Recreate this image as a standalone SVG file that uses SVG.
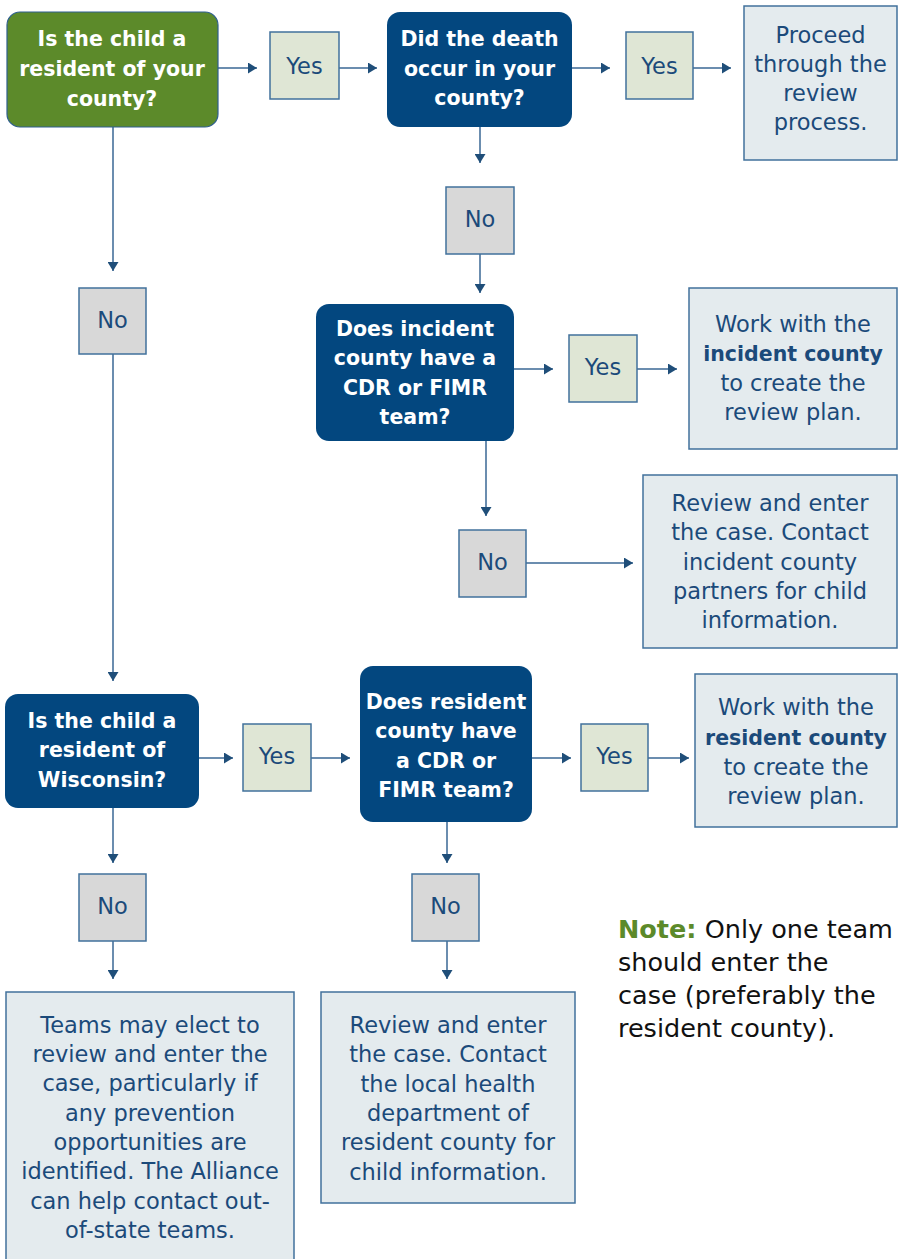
<svg xmlns="http://www.w3.org/2000/svg" width="900" height="1259" viewBox="0 0 900 1259">
<defs>
<marker id="ah" markerUnits="userSpaceOnUse" markerWidth="11" markerHeight="11" refX="9" refY="5.5" orient="auto">
<path d="M0,0 L9,5.5 L0,11 z" fill="#1f4e79"/>
</marker>
<style>
.q{stroke:#2f5f8f;stroke-width:1.2}
.green{fill:#5c8a2a}
.blue{fill:#03477f}
.yes{fill:#dfe6d5;stroke:#41719c;stroke-width:1.5}
.no{fill:#d8d8d8;stroke:#41719c;stroke-width:1.5}
.info{fill:#e4ebee;stroke:#41719c;stroke-width:1.5}
.qt{font-family:"DejaVu Sans",sans-serif;font-weight:bold;font-size:20.5px;fill:#ffffff;text-anchor:middle}
.it{font-family:"DejaVu Sans",sans-serif;font-size:22.5px;fill:#1b4a7a;text-anchor:middle}
.lt{font-family:"DejaVu Sans",sans-serif;font-size:22.5px;fill:#1b4a7a;text-anchor:middle}
.b{font-weight:bold;font-size:20.5px}
.c{fill:none;stroke:#3a6795;stroke-width:1.5}
.note{font-family:"DejaVu Sans",sans-serif;font-size:25.5px;fill:#111111}
</style>
</defs>
<rect width="900" height="1259" fill="#ffffff"/>

<g id="connectors">
<line class="c" x1="218" y1="68" x2="257" y2="68" marker-end="url(#ah)"/>
<line class="c" x1="339" y1="68" x2="377" y2="68" marker-end="url(#ah)"/>
<line class="c" x1="572" y1="68" x2="610" y2="68" marker-end="url(#ah)"/>
<line class="c" x1="693" y1="68" x2="731" y2="68" marker-end="url(#ah)"/>
<line class="c" x1="480" y1="127" x2="480" y2="163" marker-end="url(#ah)"/>
<line class="c" x1="480" y1="254" x2="480" y2="293" marker-end="url(#ah)"/>
<line class="c" x1="514" y1="369" x2="553" y2="369" marker-end="url(#ah)"/>
<line class="c" x1="637" y1="369" x2="677" y2="369" marker-end="url(#ah)"/>
<line class="c" x1="486" y1="441" x2="486" y2="516" marker-end="url(#ah)"/>
<line class="c" x1="526" y1="563" x2="633" y2="563" marker-end="url(#ah)"/>
<line class="c" x1="113" y1="127" x2="113" y2="271" marker-end="url(#ah)"/>
<line class="c" x1="113" y1="354" x2="113" y2="681" marker-end="url(#ah)"/>
<line class="c" x1="199" y1="758" x2="233" y2="758" marker-end="url(#ah)"/>
<line class="c" x1="311" y1="758" x2="350" y2="758" marker-end="url(#ah)"/>
<line class="c" x1="532" y1="758" x2="571" y2="758" marker-end="url(#ah)"/>
<line class="c" x1="648" y1="758" x2="689" y2="758" marker-end="url(#ah)"/>
<line class="c" x1="113" y1="808" x2="113" y2="863" marker-end="url(#ah)"/>
<line class="c" x1="113" y1="941" x2="113" y2="979" marker-end="url(#ah)"/>
<line class="c" x1="447" y1="822" x2="447" y2="863" marker-end="url(#ah)"/>
<line class="c" x1="447" y1="941" x2="447" y2="979" marker-end="url(#ah)"/>
</g>

<g id="q1">
<rect class="green q" x="7" y="12" width="211" height="115" rx="13"/>
<text class="qt" x="112" y="46">Is the child a</text>
<text class="qt" x="112" y="76">resident of your</text>
<text class="qt" x="112" y="106">county?</text>
</g>
<g id="yes1">
<rect class="yes" x="270" y="32" width="69" height="67"/>
<text class="it" x="304.5" y="74">Yes</text>
</g>
<g id="q2">
<rect class="blue" x="387" y="12" width="185" height="115" rx="13"/>
<text class="qt" x="479.5" y="46">Did the death</text>
<text class="qt" x="479.5" y="76">occur in your</text>
<text class="qt" x="479.5" y="105">county?</text>
</g>
<g id="yes2">
<rect class="yes" x="626" y="32" width="67" height="67"/>
<text class="it" x="659.5" y="74">Yes</text>
</g>
<g id="r1">
<rect class="info" x="744" y="6" width="153" height="154"/>
<text class="lt" x="820.5" y="43">Proceed</text>
<text class="lt" x="820.5" y="72">through the</text>
<text class="lt" x="820.5" y="101">review</text>
<text class="lt" x="820.5" y="130">process.</text>
</g>
<g id="no1">
<rect class="no" x="446" y="187" width="68" height="67"/>
<text class="it" x="480" y="227">No</text>
</g>
<g id="q3">
<rect class="blue" x="316" y="304" width="198" height="137" rx="13"/>
<text class="qt" x="415" y="336">Does incident</text>
<text class="qt" x="415" y="365">county have a</text>
<text class="qt" x="415" y="395">CDR or FIMR</text>
<text class="qt" x="415" y="424">team?</text>
</g>
<g id="yes3">
<rect class="yes" x="569" y="335" width="68" height="67"/>
<text class="it" x="603" y="375">Yes</text>
</g>
<g id="r2">
<rect class="info" x="689" y="288" width="208" height="161"/>
<text class="lt" x="793" y="332">Work with the</text>
<text class="lt b" x="793" y="361">incident county</text>
<text class="lt" x="793" y="391">to create the</text>
<text class="lt" x="793" y="420">review plan.</text>
</g>
<g id="no2">
<rect class="no" x="459" y="530" width="67" height="67"/>
<text class="it" x="492.5" y="570">No</text>
</g>
<g id="r3">
<rect class="info" x="643" y="475" width="254" height="173"/>
<text class="lt" x="770" y="511">Review and enter</text>
<text class="lt" x="770" y="540">the case. Contact</text>
<text class="lt" x="770" y="570">incident county</text>
<text class="lt" x="770" y="599">partners for child</text>
<text class="lt" x="770" y="628">information.</text>
</g>
<g id="no3">
<rect class="no" x="79" y="288" width="67" height="66"/>
<text class="it" x="112.5" y="328">No</text>
</g>
<g id="q4">
<rect class="blue" x="5" y="694" width="194" height="114" rx="13"/>
<text class="qt" x="102" y="728">Is the child a</text>
<text class="qt" x="102" y="757">resident of</text>
<text class="qt" x="102" y="787">Wisconsin?</text>
</g>
<g id="yes4">
<rect class="yes" x="243" y="724" width="68" height="67"/>
<text class="it" x="277" y="764">Yes</text>
</g>
<g id="q5">
<rect class="blue" x="360" y="666" width="172" height="156" rx="13"/>
<text class="qt" x="446" y="709">Does resident</text>
<text class="qt" x="446" y="738">county have</text>
<text class="qt" x="446" y="768">a CDR or</text>
<text class="qt" x="446" y="797">FIMR team?</text>
</g>
<g id="yes5">
<rect class="yes" x="581" y="724" width="67" height="67"/>
<text class="it" x="614.5" y="764">Yes</text>
</g>
<g id="r4">
<rect class="info" x="695" y="674" width="202" height="153"/>
<text class="lt" x="796" y="715">Work with the</text>
<text class="lt b" x="796" y="745">resident county</text>
<text class="lt" x="796" y="775">to create the</text>
<text class="lt" x="796" y="804">review plan.</text>
</g>
<g id="no4">
<rect class="no" x="79" y="874" width="67" height="67"/>
<text class="it" x="112.5" y="914">No</text>
</g>
<g id="no5">
<rect class="no" x="412" y="874" width="67" height="67"/>
<text class="it" x="445.5" y="914">No</text>
</g>
<g id="r5">
<rect class="info" x="6" y="992" width="288" height="275"/>
<text class="lt" x="150" y="1033">Teams may elect to</text>
<text class="lt" x="150" y="1062">review and enter the</text>
<text class="lt" x="150" y="1091">case, particularly if</text>
<text class="lt" x="150" y="1121">any prevention</text>
<text class="lt" x="150" y="1150">opportunities are</text>
<text class="lt" x="150" y="1179">identified. The Alliance</text>
<text class="lt" x="150" y="1209">can help contact out-</text>
<text class="lt" x="150" y="1238">of-state teams.</text>
</g>
<g id="r6">
<rect class="info" x="321" y="992" width="254" height="211"/>
<text class="lt" x="448" y="1033">Review and enter</text>
<text class="lt" x="448" y="1062">the case. Contact</text>
<text class="lt" x="448" y="1092">the local health</text>
<text class="lt" x="448" y="1121">department of</text>
<text class="lt" x="448" y="1150">resident county for</text>
<text class="lt" x="448" y="1180">child information.</text>
</g>
<g id="note">
<text class="note" x="618" y="938"><tspan font-weight="bold" fill="#5c8a2a">Note:</tspan> Only one team</text>
<text class="note" x="618" y="971">should enter the</text>
<text class="note" x="618" y="1004">case (preferably the</text>
<text class="note" x="618" y="1037">resident county).</text>
</g>
</svg>
